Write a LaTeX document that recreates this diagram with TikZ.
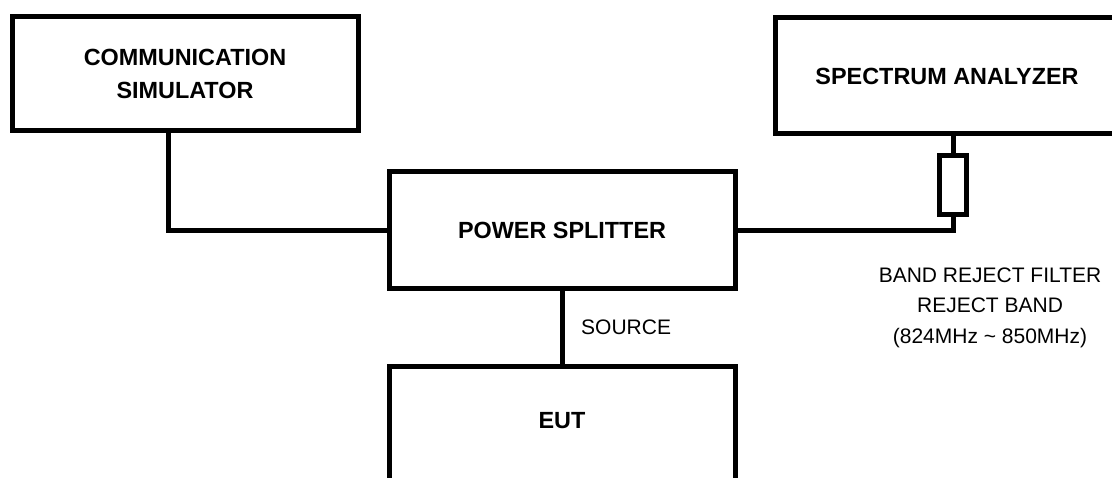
\documentclass[tikz,border=0pt]{standalone}
\usepackage{fontspec}
\setmainfont{Liberation Sans}
\usetikzlibrary{calc}

\begin{document}
\begin{tikzpicture}[x=0.5pt,y=0.5pt,
  unitbox/.style={draw, line width=2.5pt, inner sep=0pt, align=center,
    font=\fontsize{11.7}{16.5}\selectfont\bfseries},
  tag/.style={align=center, font=\fontsize{10.5}{15.25}\selectfont},
  wire/.style={line width=2.5pt}]
  \useasboundingbox (0,0) rectangle (1112,477);
  \clip (0,0) rectangle (1112,477);
  \path (185,403.25) node (comm) [unitbox, minimum width=173pt, minimum height=57.25pt] {COMMUNICATION\\SIMULATOR};
  \path (947,401) node (sa) [unitbox, minimum width=172pt, minimum height=58pt] {SPECTRUM ANALYZER};
  \path (562,247) node (ps) [unitbox, minimum width=173pt, minimum height=58pt] {POWER SPLITTER};
  \path (562,113) node (eut) [unitbox, anchor=north, minimum width=173pt, text height=31.2pt, text depth=40pt] {EUT};
  \path (953,292) node (filter) [draw, line width=2.5pt, minimum width=13.5pt, minimum height=29.5pt] {};
  \node[tag] (bandtag) at (990,169.5) {BAND REJECT FILTER\\REJECT BAND\\(824MHz \textasciitilde{} 850MHz)};
  \draw[wire] ([xshift=-8.5pt]comm.south) |- (ps.west);
  \draw[wire] (ps.east) -| (filter.south);
  \draw[wire] (filter.north) -- (filter.north |- sa.south);
  \draw[wire] (ps.south) -- node[tag, right=5pt] {SOURCE} (eut.north);
\end{tikzpicture}
\end{document}
